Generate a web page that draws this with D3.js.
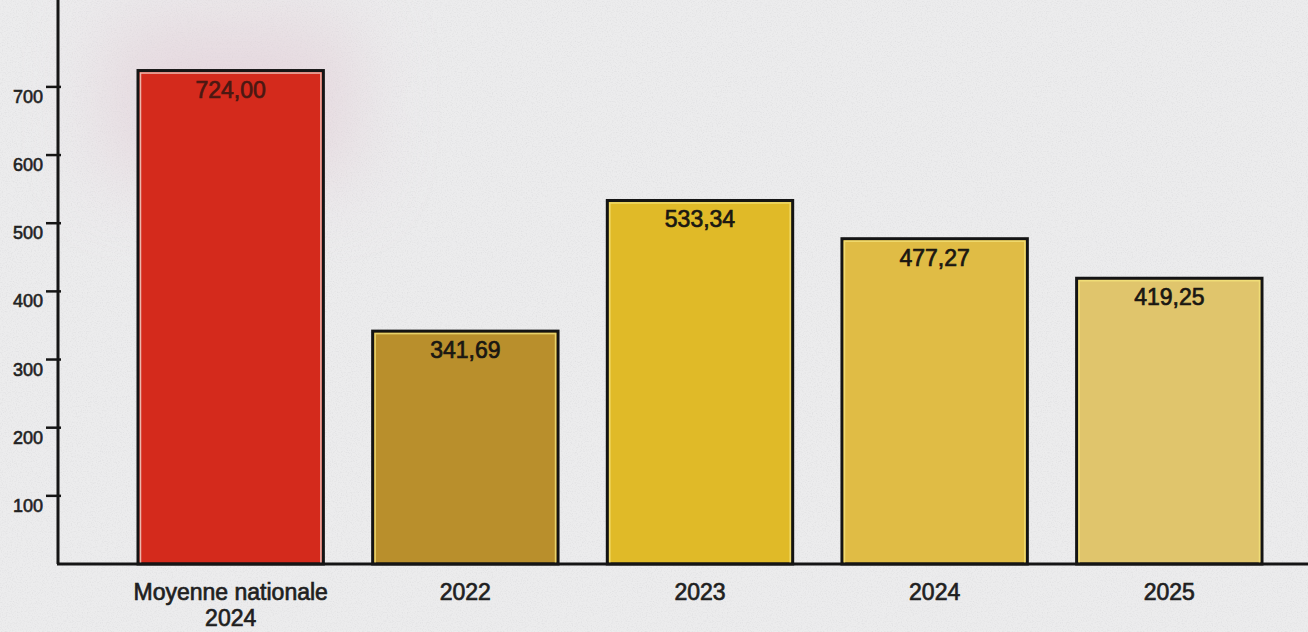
<!DOCTYPE html>
<html>
<head>
<meta charset="utf-8">
<script src="https://cdn.jsdelivr.net/npm/d3@7"></script>
<style>
  html, body { margin: 0; padding: 0; background: #ebebec; overflow: hidden; }
  svg { display: block; font-family: "Liberation Sans", Arial, sans-serif; }
</style>
</head>
<body>
<script>
// data
const categories = ["Moyenne nationale\n2024", "2022", "2023", "2024", "2025"];
const values = [724.00, 341.69, 533.34, 477.27, 419.25];
const valueLabels = ["724,00", "341,69", "533,34", "477,27", "419,25"];
const barColors = ["#d42a1c", "#b98f2c", "#e0ba28", "#e0bc45", "#e0c56c"];
const yTicks = [100, 200, 300, 400, 500, 600, 700];

const width = 1308, height = 632;

var svg = d3.select("body").append("svg")
    .attr("width", width)
    .attr("height", height);

// paper background with a bit of texture
var defs = svg.append("defs");
var noise = defs.append("filter").attr("id", "paper").attr("x", 0).attr("y", 0).attr("width", "100%").attr("height", "100%");
noise.append("feTurbulence").attr("type", "fractalNoise").attr("baseFrequency", 0.8).attr("numOctaves", 2).attr("seed", 3);
noise.append("feColorMatrix").attr("type", "matrix")
    .attr("values", "0 0 0 0 0.5  0 0 0 0 0.5  0 0 0 0 0.52  0 0 0 -2 1.1");
var blur = defs.append("filter").attr("id", "haze").attr("x", "-50%").attr("y", "-50%").attr("width", "200%").attr("height", "200%");
blur.append("feGaussianBlur").attr("stdDeviation", 40);

svg.append("rect").attr("width", width).attr("height", height).attr("fill", "#ececed");
svg.append("rect").attr("width", width).attr("height", height).attr("filter", "url(#paper)").attr("opacity", 0.25);

const x = d3.scaleBand()
    .domain(categories)
    .range([138, 1262])
    .paddingInner(0.21)
    .paddingOuter(0);

const y = d3.scaleLinear()
    .domain([0, 827.5])
    .range([564, 0]);

// faint pinkish haze around the red bar
svg.append("rect")
    .attr("x", x(categories[0]) - 30)
    .attr("y", y(values[0]) - 50)
    .attr("width", x.bandwidth() + 60)
    .attr("height", 160)
    .attr("fill", "#e2ccd6")
    .attr("opacity", 0.6)
    .attr("filter", "url(#haze)");

// bars
var bars = svg.selectAll(".bar")
    .data(values)
    .enter().append("g")
    .attr("class", "bar");

bars.append("rect")
    .attr("x", function (d, i) { return x(categories[i]); })
    .attr("y", function (d) { return y(d); })
    .attr("width", x.bandwidth())
    .attr("height", function (d) { return y(0) - y(d); })
    .attr("fill", function (d, i) { return barColors[i]; })
    .attr("stroke", "#141414")
    .attr("stroke-width", 3);

// thin light edge just inside the outline
bars.append("rect")
    .attr("x", function (d, i) { return x(categories[i]) + 2.5; })
    .attr("y", function (d) { return y(d) + 2.5; })
    .attr("width", x.bandwidth() - 5)
    .attr("height", function (d) { return y(0) - y(d) - 2.5; })
    .attr("fill", "none")
    .attr("stroke", function (d, i) { return i == 0 ? "#f2d8d0" : "#f4e27a"; })
    .attr("stroke-width", 1.5)
    .attr("opacity", 0.8);

// value labels
bars.append("text")
    .attr("x", function (d, i) { return x(categories[i]) + x.bandwidth() / 2; })
    .attr("y", function (d) { return y(d) + 27; })
    .attr("text-anchor", "middle")
    .attr("font-size", 23)
    .attr("fill", function (d, i) { return i == 0 ? "#4a1812" : "#1a1712"; })
    .attr("stroke", function (d, i) { return i == 0 ? "#4a1812" : "#1a1712"; })
    .attr("stroke-width", 0.7)
    .text(function (d, i) { return valueLabels[i]; });

// axes
svg.append("line")
    .attr("x1", 58).attr("x2", 58)
    .attr("y1", 0).attr("y2", y(0))
    .attr("stroke", "#151515").attr("stroke-width", 3);

svg.append("line")
    .attr("x1", 57).attr("x2", width)
    .attr("y1", y(0)).attr("y2", y(0))
    .attr("stroke", "#151515").attr("stroke-width", 3);

var ticks = svg.selectAll(".tick")
    .data(yTicks)
    .enter().append("g")
    .attr("class", "tick")
    .attr("transform", function (d) { return "translate(0," + y(d) + ")"; });

ticks.append("line")
    .attr("x1", 46).attr("x2", 61)
    .attr("stroke", "#151515").attr("stroke-width", 2.5);

ticks.append("text")
    .attr("x", 43)
    .attr("y", 16)
    .attr("text-anchor", "end")
    .attr("font-size", 18)
    .attr("fill", "#222")
    .attr("stroke", "#222").attr("stroke-width", 0.6)
    .text(function (d) { return d; });

// category labels
var cats = svg.selectAll(".cat")
    .data(categories)
    .enter().append("text")
    .attr("class", "cat")
    .attr("x", function (d) { return x(d) + x.bandwidth() / 2; })
    .attr("y", 600)
    .attr("text-anchor", "middle")
    .attr("font-size", 23)
    .attr("fill", "#1f1f1f")
    .attr("stroke", "#1f1f1f").attr("stroke-width", 0.7);

cats.selectAll("tspan")
    .data(function (d) { return d.split("\n"); })
    .enter().append("tspan")
    .attr("x", function () { return d3.select(this.parentNode).attr("x"); })
    .attr("dy", function (d, i) { return i == 0 ? 0 : 26; })
    .text(function (d) { return d; });
</script>
</body>
</html>
